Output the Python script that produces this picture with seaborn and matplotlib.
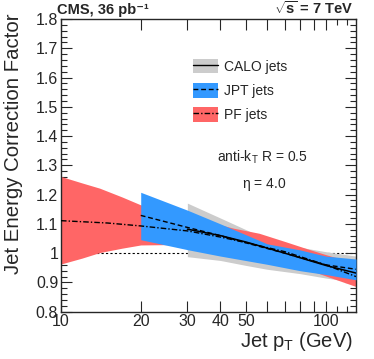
import numpy as np
import pandas as pd
import matplotlib
matplotlib.use("Agg")
import matplotlib.pyplot as plt
import seaborn as sns
from matplotlib.patches import Patch
from matplotlib.lines import Line2D
from matplotlib.ticker import FixedLocator, FixedFormatter, MultipleLocator, NullFormatter, FuncFormatter

# Bandas de incertidumbre
calo_pt = [30, 40, 50, 60, 80, 100, 130]
calo_hi = [1.171, 1.120, 1.080, 1.048, 1.020, 1.005, 0.990]
calo_lo = [0.988, 0.975, 0.958, 0.945, 0.930, 0.915, 0.900]

jpt_pt = [20, 30, 40, 60, 80, 100, 130]
jpt_hi = [1.208, 1.147, 1.100, 1.032, 1.011, 0.990, 0.980]
jpt_lo = [1.046, 1.012, 0.990, 0.962, 0.940, 0.927, 0.909]

pf_pt = [10, 12, 14, 17, 20, 30, 45, 56, 70, 85, 100, 130]
pf_hi = [1.262, 1.240, 1.222, 1.192, 1.165, 1.125, 1.085, 1.068, 1.040, 1.015, 0.995, 0.965]
pf_lo = [0.963, 0.983, 1.002, 1.017, 1.028, 1.030, 1.010, 0.990, 0.965, 0.945, 0.922, 0.886]

# Curvas centrales
calo_c_pt = [30, 40, 50, 70, 100, 130]
calo_c = [1.082, 1.060, 1.038, 1.000, 0.958, 0.932]
jpt_c_pt = [20, 30, 40, 50, 70, 100, 130]
jpt_c = [1.129, 1.088, 1.060, 1.035, 1.000, 0.960, 0.945]
pf_c_pt = [10, 15, 20, 30, 40, 50, 70, 100, 130]
pf_c = [1.111, 1.103, 1.093, 1.076, 1.055, 1.036, 1.005, 0.960, 0.920]

labels = ["CALO jets", "JPT jets", "PF jets"]
colors = ["#cccccc", "#3399ff", "#ff6666"]
dashes = [(None, None), (0, (3.5, 2)), (0, (4, 1.5, 1, 1.5))]

sns.set_style("ticks")
plt.rcParams["font.family"] = ["Liberation Sans", "DejaVu Sans"]
plt.rcParams["mathtext.fontset"] = "custom"
plt.rcParams["mathtext.rm"] = "Liberation Sans"
plt.rcParams["mathtext.it"] = "Liberation Sans:italic"
plt.rcParams["mathtext.bf"] = "Liberation Sans:bold"

fig = plt.figure(figsize=(3.74, 3.59), dpi=100)
ax = fig.add_axes([61 / 374, 1 - 311.7 / 359, 295 / 374, 292.7 / 359])

ax.axhline(1.0, color="black", lw=0.8, ls=(0, (2, 2)), zorder=0.5)

ax.fill_between(calo_pt, calo_lo, calo_hi, color=colors[0], lw=0, zorder=1)
ax.fill_between(pf_pt, pf_lo, pf_hi, color=colors[2], lw=0, zorder=2)
ax.fill_between(jpt_pt, jpt_lo, jpt_hi, color=colors[1], lw=0, zorder=3)

df_calo = pd.DataFrame({"pt": calo_c_pt, "k": calo_c})
df_jpt = pd.DataFrame({"pt": jpt_c_pt, "k": jpt_c})
df_pf = pd.DataFrame({"pt": pf_c_pt, "k": pf_c})
sns.lineplot(data=df_calo, x="pt", y="k", ax=ax, color="black", lw=1.1, ls="-", zorder=5)
sns.lineplot(data=df_jpt, x="pt", y="k", ax=ax, color="black", lw=1.0, ls=dashes[1], zorder=5)
sns.lineplot(data=df_pf, x="pt", y="k", ax=ax, color="black", lw=1.0, ls=dashes[2], zorder=5)

ax.set_xscale("log")
ax.set_xlim(10, 130)
ax.set_ylim(0.8, 1.8)

xt = [10, 20, 30, 40, 50, 60, 70, 80, 90, 100]
xl = ["10", "20", "30", "40", "50", "", "", "", "", "100"]
ax.xaxis.set_major_locator(FixedLocator(xt))
ax.xaxis.set_major_formatter(FixedFormatter(xl))
ax.xaxis.set_minor_locator(FixedLocator([110, 120]))
ax.xaxis.set_minor_formatter(NullFormatter())
ax.yaxis.set_major_locator(MultipleLocator(0.1))
ax.yaxis.set_minor_locator(MultipleLocator(0.02))
ax.yaxis.set_major_formatter(FuncFormatter(lambda v, p: f"{v:g}"))

ax.tick_params(which="both", direction="in", top=True, right=True, width=0.8, labelsize=11.5)
ax.tick_params(which="major", length=8, pad=2)
ax.tick_params(which="minor", length=4)
for s in ax.spines.values():
    s.set_linewidth(1.0)

ax.set_xlabel("Jet p$_\\mathregular{T}$ (GeV)", fontsize=14.5, ha="right")
ax.xaxis.set_label_coords(0.99, -0.064)
ax.set_ylabel("Jet Energy Correction Factor", fontsize=14.7, ha="right")
ax.yaxis.set_label_coords(-0.13, 1.02)

fig.text(57 / 374, 1 - 14 / 359, "CMS, 36 pb\u207b\u00b9", fontsize=10.5, fontweight="bold", ha="left", va="baseline")
fig.text(354 / 374, 1 - 14 / 359, "$\\sqrt{\\mathbf{s}}$ = 7 TeV", fontsize=10.5, fontweight="bold", ha="right", va="baseline")

handles = [(Patch(facecolor=c, edgecolor="none"), Line2D([], [], color="black", lw=1.0, ls=st))
           for c, st in zip(colors, ["-", dashes[1], dashes[2]])]
ax.legend(handles, labels, loc="upper left", bbox_to_anchor=(0.447, 0.864), frameon=False,
          fontsize=10, handlelength=1.8, handleheight=1.22, labelspacing=0.68,
          handletextpad=0.45, borderpad=0, borderaxespad=0)

ax.text(0.682, 0.527, "anti-k$_\\mathregular{T}$ R = 0.5", transform=ax.transAxes, fontsize=10, ha="center", va="center")
ax.text(0.69, 0.435, "$\\mathregular{\\eta}$ = 4.0", transform=ax.transAxes, fontsize=10, ha="center", va="center")

fig.savefig("out.png", dpi=100)
